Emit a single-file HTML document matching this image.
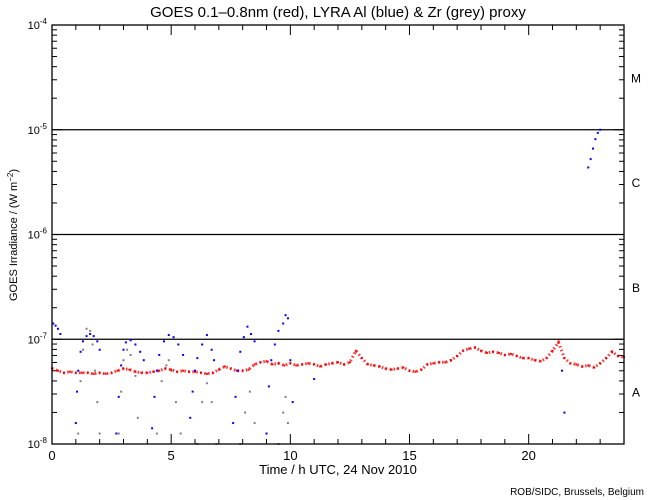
<!DOCTYPE html>
<html><head><meta charset="utf-8"><style>
html,body{margin:0;padding:0;background:#fff;}
svg{display:block;font-family:"Liberation Sans",sans-serif;}
</style></head><body>
<svg id="chart" width="650" height="500" viewBox="0 0 650 500" xmlns="http://www.w3.org/2000/svg">
<rect x="0" y="0" width="650" height="500" fill="#fff"/>
<text x="338" y="17" font-size="15" text-anchor="middle" fill="#000">GOES 0.1–0.8nm (red), LYRA Al (blue) &amp; Zr (grey) proxy</text>
<text transform="translate(17,235) rotate(-90)" font-size="11" text-anchor="middle" fill="#000">GOES Irradiance / (W m<tspan dy="-4" font-size="8">−2</tspan><tspan dy="4">)</tspan></text>
<text x="338" y="474" font-size="13" text-anchor="middle" fill="#000">Time / h UTC, 24 Nov 2010</text>
<text x="644" y="495" font-size="10" text-anchor="end" fill="#000">ROB/SIDC, Brussels, Belgium</text>
<g id="axes"></g>
<g id="marks"></g>
<rect x="52" y="25" width="572" height="419" fill="none" stroke="#000" stroke-width="1.3"/>
</svg>
<script>
const xTicks = [0, 5, 10, 15, 20];
const yDecades = [-8, -7, -6, -5, -4];
const classLetters = ["A", "B", "C", "M"];
const classLogs = [-7.5, -6.5, -5.5, -4.5];
const goesT = [0,0.25,0.5,0.75,1,1.25,1.5,1.75,2,2.25,2.5,2.75,3,3.25,3.5,3.75,4,4.25,4.5,4.75,5,5.25,5.5,5.75,6,6.25,6.5,6.75,7,7.25,7.5,7.75,8,8.25,8.5,8.75,9,9.25,9.5,9.75,10,10.25,10.5,10.75,11,11.25,11.5,11.75,12,12.25,12.5,12.75,13,13.25,13.5,13.75,14,14.25,14.5,14.75,15,15.25,15.5,15.75,16,16.25,16.5,16.75,17,17.25,17.5,17.75,18,18.25,18.5,18.75,19,19.25,19.5,19.75,20,20.25,20.5,20.75,21,21.25,21.5,21.75,22,22.25,22.5,22.75,23,23.25,23.5,23.75,24];
const goesLog = [-7.28,-7.30,-7.32,-7.31,-7.32,-7.32,-7.32,-7.33,-7.32,-7.33,-7.32,-7.30,-7.28,-7.29,-7.31,-7.32,-7.32,-7.31,-7.30,-7.28,-7.29,-7.31,-7.30,-7.31,-7.31,-7.32,-7.33,-7.32,-7.29,-7.26,-7.28,-7.30,-7.30,-7.29,-7.24,-7.22,-7.21,-7.24,-7.23,-7.25,-7.23,-7.25,-7.24,-7.23,-7.24,-7.26,-7.24,-7.23,-7.22,-7.24,-7.22,-7.11,-7.18,-7.24,-7.25,-7.26,-7.28,-7.29,-7.28,-7.27,-7.30,-7.31,-7.29,-7.24,-7.23,-7.22,-7.22,-7.20,-7.16,-7.11,-7.09,-7.08,-7.11,-7.13,-7.12,-7.13,-7.15,-7.14,-7.16,-7.18,-7.18,-7.20,-7.21,-7.18,-7.11,-7.03,-7.18,-7.23,-7.24,-7.26,-7.25,-7.27,-7.23,-7.18,-7.12,-7.16,-7.17];
const alT = [0.05,0.15,0.25,0.35,1.0,1.05,1.1,1.2,1.3,1.45,1.6,1.75,1.9,2.0,2.7,2.8,2.9,3.0,3.1,3.3,3.5,3.7,3.85,4.2,4.3,4.4,4.5,4.7,4.9,5.1,5.3,5.5,5.8,5.9,6.0,6.1,6.3,6.5,6.7,6.8,7.6,7.7,7.8,7.9,8.05,8.2,8.35,8.5,9.0,9.1,9.2,9.35,9.5,9.7,9.8,9.9,10.0,10.1,11.0,21.4,21.5,22.5,22.6,22.7,22.8,22.9,23.0];
const alLog = [-6.85,-6.87,-6.90,-6.95,-7.80,-7.50,-7.30,-7.12,-7.02,-6.97,-6.95,-6.97,-7.02,-7.10,-7.90,-7.55,-7.25,-7.10,-7.03,-7.01,-7.05,-7.12,-7.20,-7.85,-7.55,-7.30,-7.15,-7.02,-6.96,-6.98,-7.05,-7.15,-7.75,-7.50,-7.30,-7.18,-7.05,-6.96,-7.10,-7.20,-7.80,-7.55,-7.30,-7.12,-6.98,-6.88,-6.95,-7.02,-7.90,-7.45,-7.20,-7.05,-6.92,-6.85,-6.77,-6.80,-7.20,-7.60,-7.38,-7.30,-7.70,-5.36,-5.28,-5.18,-5.09,-5.03,-5.00];
const zrT = [1.1,1.2,1.3,1.45,1.6,1.7,1.8,1.9,2.0,2.8,2.9,3.0,3.15,3.3,3.5,3.6,4.4,4.6,4.8,4.9,5.0,5.2,5.4,6.1,6.3,6.5,6.7,6.9,7.9,8.1,8.3,8.5,9.5,9.7,9.8,9.9];
const zrLog = [-7.9,-7.4,-7.1,-6.9,-6.92,-7.05,-7.3,-7.6,-7.9,-7.9,-7.5,-7.2,-7.1,-7.15,-7.35,-7.75,-7.9,-7.4,-7.25,-7.2,-7.3,-7.6,-7.9,-8.0,-7.6,-7.42,-7.6,-8.0,-8.0,-7.7,-7.5,-7.8,-8.0,-7.7,-7.55,-7.8];

const L=52,R=624,T=25,B=444;
const xS = t => L + (t/24)*(R-L);
const yS = lg => B - (lg+8)/4*(B-T);
const NS="http://www.w3.org/2000/svg";
function mk(tag, attrs, parent){const e=document.createElementNS(NS,tag);for(const k in attrs)e.setAttribute(k,attrs[k]);parent.appendChild(e);return e;}
const axes=document.getElementById('axes'), marks=document.getElementById('marks');

for(let h=0;h<=24;h++){
  const x=xS(h), len = h%5===0?10:5;
  const tb=mk('line',{x1:x,x2:x,y1:B,y2:B-len,stroke:'#000','stroke-width':1},axes);
  
  
  const tt=mk('line',{x1:x,x2:x,y1:T,y2:T+len,stroke:'#000','stroke-width':1},axes);
  
  
}
xTicks.forEach(v=>{
  const t=mk('text',{x:xS(v),y:B+16,'font-size':13,'text-anchor':'middle',fill:'#000'},axes);
  t.textContent=v;
  
  
});
yDecades.forEach((d,i)=>{
  const y=yS(d);
  if(d>-8 && d<-4){
    const g=mk('line',{x1:L,x2:R,y1:y,y2:y,stroke:'#000','stroke-width':1.3},axes);
    
    
  }
  const lab=mk('text',{x:47,y:y+4,'font-size':11,'text-anchor':'end',fill:'#000'},axes);
  
  
  lab.innerHTML='10<tspan dy="-5" font-size="8">'+d+'</tspan>';
  if(i<yDecades.length-1){
    for(let m=1;m<=9;m++){
      const yy=yS(d+Math.log10(m)), len=m===1?10:5;
      const a=mk('line',{x1:L,x2:L+len,y1:yy,y2:yy,stroke:'#000','stroke-width':1},axes);
      
      
      const b=mk('line',{x1:R,x2:R-len,y1:yy,y2:yy,stroke:'#000','stroke-width':1},axes);
      
      
    }
  }
});
classLetters.forEach((c,i)=>{
  const t=mk('text',{x:636,y:yS(classLogs[i])+5,'font-size':12,'text-anchor':'middle',fill:'#000'},axes);
  t.textContent=c;
  
  
});

function clamp(lg){return Math.max(-8,Math.min(-4,lg));}
zrT.forEach((t,i)=>{
  const r=mk('rect',{x:xS(t)-1,y:yS(clamp(zrLog[i]))-1,width:2,height:2,fill:'#808080'},marks);
  
  
});
let d='';
goesT.forEach((t,i)=>{d+=(i?'L':'M')+xS(t).toFixed(1)+','+yS(goesLog[i]).toFixed(1);});
const band=mk('path',{d:d,fill:'none',stroke:'#ff0000','stroke-width':3,'stroke-dasharray':'1.5 2.5',opacity:0.8},marks);


goesT.forEach((t,i)=>{
  const r=mk('rect',{x:xS(t)-1,y:yS(goesLog[i])-1,width:2,height:2,fill:'#ff0000'},marks);
  
  
});
alT.forEach((t,i)=>{
  const r=mk('rect',{x:xS(t)-1,y:yS(clamp(alLog[i]))-1,width:2,height:2,fill:'#0000ff'},marks);
  
  
});
</script>
</body></html>
